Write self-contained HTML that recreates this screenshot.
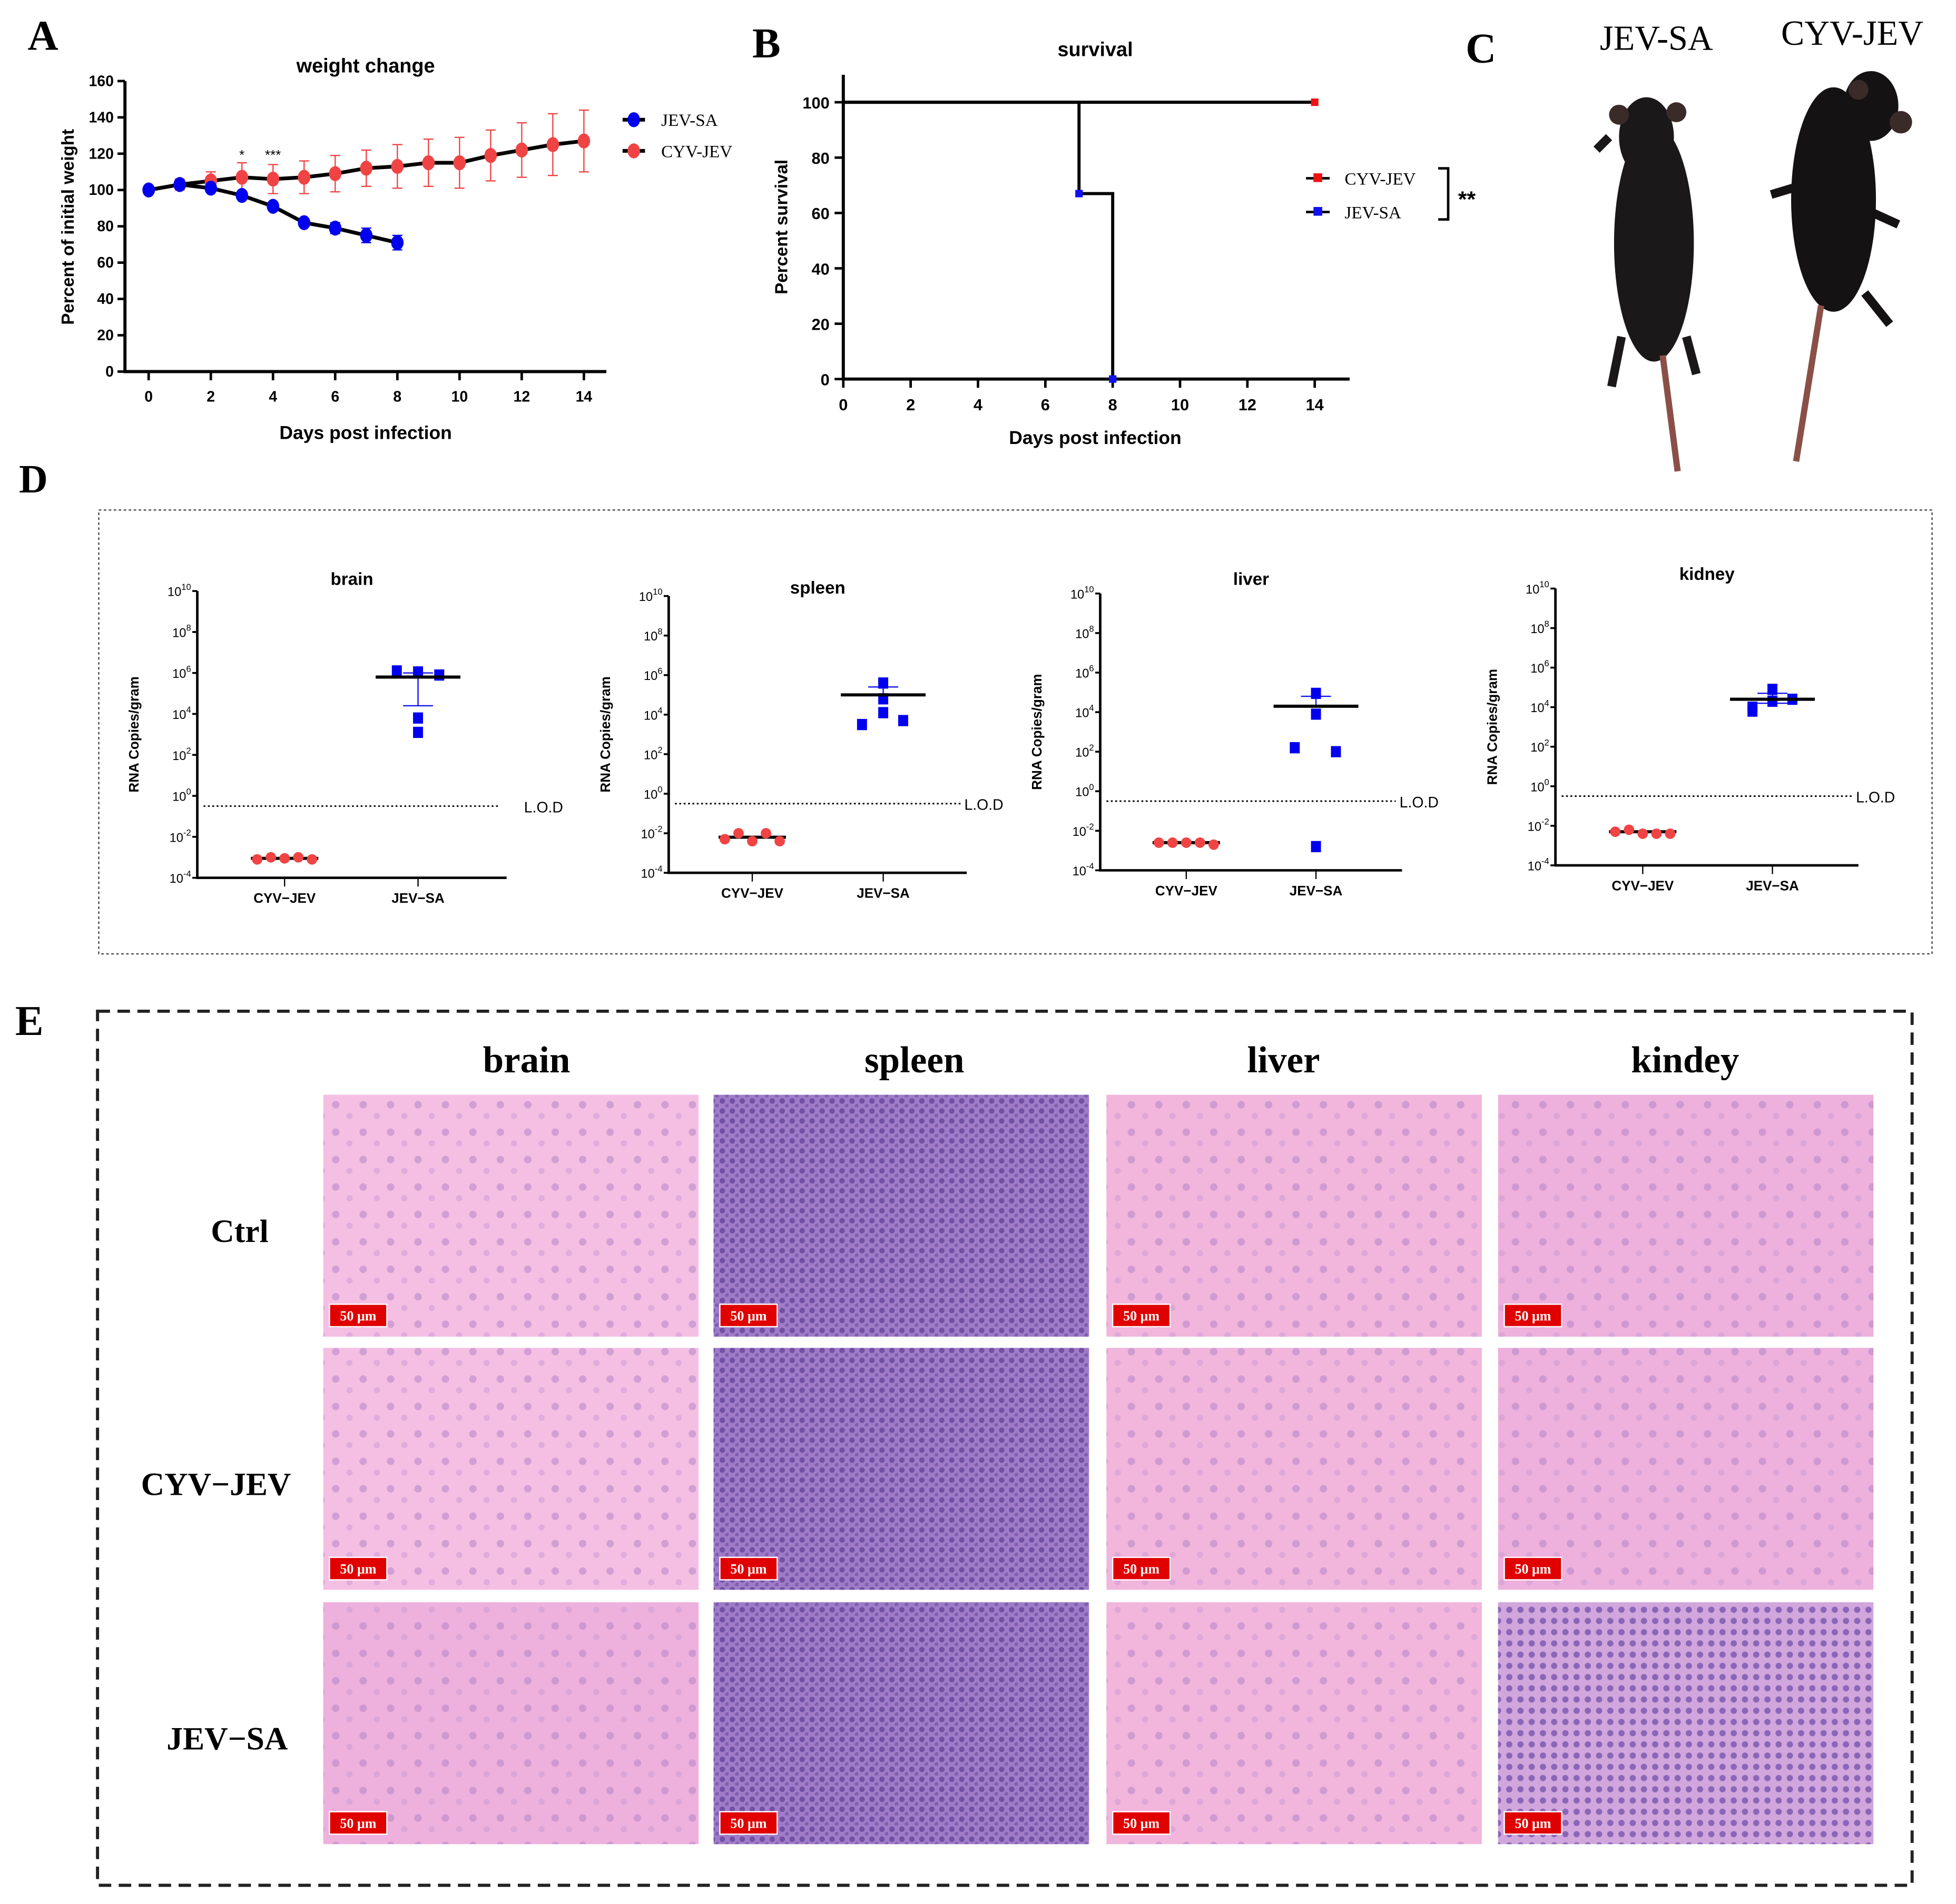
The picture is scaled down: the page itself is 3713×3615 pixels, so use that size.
<!DOCTYPE html>
<html><head><meta charset="utf-8"><style>
html,body{margin:0;padding:0;background:#fff}
svg{display:block}
text{font-family:"Liberation Sans",Arial,sans-serif}
.serif{font-family:"Liberation Serif","Times New Roman",serif}
</style></head><body>
<svg id="fig" width="3713" height="3615" viewBox="0 0 1568 1527" xmlns="http://www.w3.org/2000/svg">
<defs>
<pattern id="cellsP" width="22" height="22" patternUnits="userSpaceOnUse"><circle cx="5" cy="6" r="3" fill="#b98ac9" opacity="0.6"/><circle cx="16" cy="15" r="2.5" fill="#c99ad4" opacity="0.5"/></pattern>
<pattern id="cellsS" width="8" height="8" patternUnits="userSpaceOnUse"><circle cx="3" cy="3" r="2.2" fill="#5e3d95" opacity="0.7"/><circle cx="7" cy="7" r="1.8" fill="#6a4aa0" opacity="0.6"/></pattern>
<pattern id="cellsK" width="9" height="9" patternUnits="userSpaceOnUse"><circle cx="4" cy="4" r="2.5" fill="#6e4aa8" opacity="0.7"/></pattern>
</defs>
<rect width="1568" height="1527" fill="#fff"/>
<g id="panelA"></g>
<g id="panelB"></g>
<g id="panelC">
<text x="1175" y="50" font-size="34" font-weight="bold" class="serif">C</text>
<text x="1328" y="40" font-size="28" text-anchor="middle" class="serif">JEV-SA</text>
<text x="1485" y="36" font-size="28" text-anchor="middle" class="serif">CYV-JEV</text>
<g>
<ellipse cx="1326" cy="195" rx="32" ry="95" fill="#1a1818"/><ellipse cx="1320" cy="110" rx="22" ry="32" fill="#1a1818"/>
<circle cx="1298" cy="92" r="8" fill="#3a2a28"/><circle cx="1344" cy="90" r="8" fill="#3a2a28"/>
<path d="M1290 110 l-10 10 M1300 270 l-8 40 M1352 270 l8 30" stroke="#1a1818" stroke-width="7"/>
<path d="M1333 285 L1345 378" stroke="#8a5048" stroke-width="5"/></g>
<g>
<ellipse cx="1470" cy="160" rx="34" ry="90" fill="#141212"/><ellipse cx="1500" cy="85" rx="22" ry="28" fill="#141212"/>
<circle cx="1524" cy="98" r="9" fill="#3a2a28"/><circle cx="1490" cy="72" r="8" fill="#3a2a28"/>
<path d="M1440 150 l-20 6 M1500 170 l22 10 M1495 235 l20 25" stroke="#141212" stroke-width="7"/>
<path d="M1460 245 L1440 370" stroke="#8a5048" stroke-width="5"/></g>
</g>
<g id="panelD">
<text x="15" y="395" font-size="32" font-weight="bold" class="serif">D</text>
<rect x="79" y="409" width="1470" height="356" fill="none" stroke="#444" stroke-width="1" stroke-dasharray="2,2"/>
</g>
<g id="panelE">
<text x="12" y="830" font-size="34" font-weight="bold" class="serif">E</text>
<rect x="78" y="811" width="1455" height="701" fill="none" stroke="#222" stroke-width="2.5" stroke-dasharray="10,6"/>
</g>
</svg>
<script>
const NS="http://www.w3.org/2000/svg";
function mk(parent,tag,attrs,txt){const e=document.createElementNS(NS,tag);for(const k in attrs)e.setAttribute(k,attrs[k]);if(txt!==undefined)e.textContent=txt;parent.appendChild(e);return e;}

/* ===== Panel A data ===== */
const daysJEV=[0,1,2,3,4,5,6,7,8];
const weightJEV=[100,103,101,97,91,82,79,75,71];
const errJEV=[1,2,2,2,1,2,3,4,4];
const daysCYV=[0,1,2,3,4,5,6,7,8,9,10,11,12,13,14];
const weightCYV=[100,103,105,107,106,107,109,112,113,115,115,119,122,125,127];
const errCYV=[0,3,5,8,8,9,10,10,12,13,14,14,15,17,17];
const aXTicks=[0,2,4,6,8,10,12,14];
const aYTicks=[0,20,40,60,80,100,120,140,160];

const A=document.getElementById('panelA');
const ax=d=>119+d*(468-119)/14, ay=v=>298-v*(298-65)/160;
let t=mk(A,'text',{x:22,y:40,'font-size':34,'font-weight':'bold',class:'serif'},'A');


t=mk(A,'text',{x:293,y:58,'font-size':16,'font-weight':'bold','text-anchor':'middle'},'weight change');


let l=mk(A,'path',{d:'M100 65 V298 H486',stroke:'#000','stroke-width':2.5,fill:'none'});


aYTicks.forEach(v=>{mk(A,'line',{x1:94,x2:100,y1:ay(v),y2:ay(v),stroke:'#000','stroke-width':2});
 t=mk(A,'text',{x:91,y:ay(v)+4,'font-size':12,'font-weight':'bold','text-anchor':'end'},v);
 
 });
aXTicks.forEach(v=>{mk(A,'line',{x1:ax(v),x2:ax(v),y1:298,y2:305,stroke:'#000','stroke-width':2});
 t=mk(A,'text',{x:ax(v),y:322,'font-size':12,'font-weight':'bold','text-anchor':'middle'},v);
 
 });
t=mk(A,'text',{x:293,y:352,'font-size':15,'font-weight':'bold','text-anchor':'middle'},'Days post infection');


t=mk(A,'text',{x:0,y:0,'font-size':14,'font-weight':'bold','text-anchor':'middle',transform:'translate(59,182) rotate(-90)'},'Percent of initial weight');


function seriesA(days,vals,errs,col,name){
 days.forEach((d,i)=>{if(errs[i]>0){const e=mk(A,'path',{d:`M${ax(d)} ${ay(vals[i]-errs[i])} V${ay(vals[i]+errs[i])} M${ax(d)-4} ${ay(vals[i]-errs[i])} h8 M${ax(d)-4} ${ay(vals[i]+errs[i])} h8`,stroke:col,'stroke-width':1,fill:'none'});
  
  }});
 const p=mk(A,'polyline',{points:days.map((d,i)=>ax(d)+','+ay(vals[i])).join(' '),stroke:'#000','stroke-width':3,fill:'none'});
 
 
 days.forEach((d,i)=>{const c=mk(A,'ellipse',{cx:ax(d),cy:ay(vals[i]),rx:5,ry:6,fill:col});
  
  });
}
seriesA(daysCYV,weightCYV,errCYV,'#f04444','cyv-jev');
seriesA(daysJEV,weightJEV,errJEV,'#0000ee','jev-sa');
mk(A,'text',{x:ax(3),y:128,'font-size':11,'text-anchor':'middle'},'*');
mk(A,'text',{x:ax(4),y:128,'font-size':11,'text-anchor':'middle'},'***');
[['JEV-SA','#0000ee',96],['CYV-JEV','#f04444',121]].forEach(([n,c,y])=>{
 const g=mk(A,'g',{});
 
 
 mk(g,'line',{x1:499,x2:517,y1:y,y2:y,stroke:'#000','stroke-width':3});
 mk(g,'ellipse',{cx:508,cy:y,rx:5,ry:6,fill:c});
 mk(g,'text',{x:530,y:y+5,'font-size':14,class:'serif'},n);});

/* ===== Panel B data ===== */
const survDays=[0,7,8,14];
const survJEV=[100,67,0,null];
const survCYV=[100,100,100,100];
const bXTicks=[0,2,4,6,8,10,12,14];
const bYTicks=[0,20,40,60,80,100];
const B=document.getElementById('panelB');
const bx=d=>676+d*(1054-676)/14, by=v=>304-v*(304-82)/100;
t=mk(B,'text',{x:603,y:46,'font-size':34,'font-weight':'bold',class:'serif'},'B');


t=mk(B,'text',{x:878,y:45,'font-size':16,'font-weight':'bold','text-anchor':'middle'},'survival');


l=mk(B,'path',{d:'M676 60 V304 H1082',stroke:'#000','stroke-width':2.5,fill:'none'});


bYTicks.forEach(v=>{mk(B,'line',{x1:669,x2:676,y1:by(v),y2:by(v),stroke:'#000','stroke-width':2});
 t=mk(B,'text',{x:665,y:by(v)+5,'font-size':13,'font-weight':'bold','text-anchor':'end'},v);
 
 });
bXTicks.forEach(v=>{mk(B,'line',{x1:bx(v),x2:bx(v),y1:304,y2:311,stroke:'#000','stroke-width':2});
 t=mk(B,'text',{x:bx(v),y:329,'font-size':13,'font-weight':'bold','text-anchor':'middle'},v);
 
 });
t=mk(B,'text',{x:878,y:356,'font-size':15,'font-weight':'bold','text-anchor':'middle'},'Days post infection');


t=mk(B,'text',{x:0,y:0,'font-size':14,'font-weight':'bold','text-anchor':'middle',transform:'translate(631,182) rotate(-90)'},'Percent survival');


function stepPath(ds,vs){let d='',prev=null;ds.forEach((x,i)=>{if(vs[i]===null)return;if(prev===null)d+=`M${bx(x)} ${by(vs[i])}`;else d+=` H${bx(x)} V${by(vs[i])}`;prev=vs[i];});return d;}
l=mk(B,'path',{d:stepPath(survDays,survCYV),stroke:'#000','stroke-width':2.5,fill:'none'});


l=mk(B,'path',{d:stepPath(survDays,survJEV),stroke:'#000','stroke-width':2.5,fill:'none'});


let r=mk(B,'rect',{x:bx(14)-3,y:by(100)-3,width:6,height:6,fill:'#ee1111'});


[[7,67],[8,0]].forEach(([d,v])=>{r=mk(B,'rect',{x:bx(d)-3,y:by(v)-3,width:6,height:6,fill:'#1111ee'});
 
 });
[['CYV-JEV','#ee1111',143],['JEV-SA','#1111ee',170]].forEach(([n,c,y])=>{
 const g=mk(B,'g',{});
 
 
 mk(g,'line',{x1:1047,x2:1066,y1:y,y2:y,stroke:'#000','stroke-width':2});
 mk(g,'rect',{x:1053,y:y-4,width:7,height:7,fill:c});
 mk(g,'text',{x:1078,y:y+5,'font-size':14,class:'serif'},n);});
mk(B,'path',{d:'M1153 135 H1161 V176 H1153',stroke:'#000','stroke-width':2,fill:'none'});
mk(B,'text',{x:1169,y:166,'font-size':18,'font-weight':'bold'},'**');

/* ===== Panel D data (log10 copies/gram) ===== */
const organs=['brain','spleen','liver','kidney'];
const cyvLog=[[-3.1,-3.0,-3.05,-3.0,-3.1],[-2.3,-2.0,-2.4,-2.0,-2.4],[-2.6,-2.6,-2.6,-2.6,-2.7],[-2.3,-2.2,-2.4,-2.4,-2.4]];
const jevLog=[[6.1,5.9,6.05,3.8,3.1],[3.5,5.6,4.8,4.1,3.7],[2.2,4.95,3.9,2.0,-2.8],[3.8,4.3,4.9,4.4,4.0]];
const cyvMean=[-3.05,-2.2,-2.6,-2.3];
const jevMean=[5.8,5.0,4.3,4.4];
const jevErrUp=[6.0,5.4,4.8,4.7];
const jevErrLo=[4.4,5.0,4.3,4.2];
const lodLog=-0.5;
const yExp=[-4,-2,0,2,4,6,8,10];
const D=document.getElementById('panelD');
const boxes=[{ax:158,top:474,bot:704,end:406,c1:228,c2:335,ty:469},{ax:536,top:478,bot:700,end:775,c1:603,c2:708,ty:476},{ax:882,top:476,bot:698,end:1124,c1:951,c2:1055,ty:469},{ax:1247,top:472,bot:694,end:1490,c1:1317,c2:1421,ty:465}];
const offs=[-2,-1,0,1,2];
/* horizontal jitter of JEV-SA points (visual layout, not data) */
const jit=[[-17,17,0,0,0],[-17,0,0,0,16],[-17,0,0,16,0],[-16,0,0,16,-16]];
organs.forEach((o,k)=>{
 const b=boxes[k];const g=mk(D,'g',{});
 
 
 const y=v=>b.bot-(v+4)*(b.bot-b.top)/14;
 t=mk(g,'text',{x:(b.ax+b.end)/2,y:b.ty,'font-size':14,'font-weight':'bold','text-anchor':'middle'},o);
 
 
 mk(g,'path',{d:`M${b.ax} ${b.top} V${b.bot} H${b.end}`,stroke:'#000','stroke-width':2,fill:'none'});
 yExp.forEach(e=>{mk(g,'line',{x1:b.ax-4,x2:b.ax,y1:y(e),y2:y(e),stroke:'#000','stroke-width':1.5});
  const tt=mk(g,'text',{x:b.ax-5,y:y(e)+4,'font-size':10,'text-anchor':'end'});
  
  
  tt.appendChild(document.createTextNode('10'));
  mk(tt,'tspan',{'font-size':7,dy:-5},e);});
 [[b.c1,'CYV−JEV'],[b.c2,'JEV−SA']].forEach(([cx,n])=>{mk(g,'line',{x1:cx,x2:cx,y1:b.bot,y2:b.bot+7,stroke:'#000'});
  t=mk(g,'text',{x:cx,y:b.bot+20,'font-size':11,'font-weight':'bold','text-anchor':'middle'},n);
  
  });
 t=mk(g,'text',{x:0,y:0,'font-size':11,'font-weight':'bold','text-anchor':'middle',transform:`translate(${b.ax-47},${(b.top+b.bot)/2}) rotate(-90)`},'RNA Copies/gram');
 
 
 l=mk(g,'line',{x1:b.ax+5,x2:b.end-5,y1:y(lodLog),y2:y(lodLog),stroke:'#000','stroke-width':1.2,'stroke-dasharray':'1.5,2'});
 
 
 mk(g,'text',{x:b.end+(k==0?14:-2),y:y(lodLog)+5,'font-size':12},'L.O.D');
 mk(g,'line',{x1:b.c1-27,x2:b.c1+27,y1:y(cyvMean[k]),y2:y(cyvMean[k]),stroke:'#000','stroke-width':2.5});
 cyvLog[k].forEach((v,i)=>{const c=mk(g,'circle',{cx:b.c1+offs[i]*11,cy:y(v),r:4.2,fill:'#f04444'});
  
  });
 mk(g,'path',{d:`M${b.c2} ${y(jevErrUp[k])} V${y(jevErrLo[k])} M${b.c2-12} ${y(jevErrUp[k])} h24 M${b.c2-12} ${y(jevErrLo[k])} h24`,stroke:'#1111ee','stroke-width':1,fill:'none'});
 jevLog[k].forEach((v,i)=>{const c=mk(g,'rect',{x:b.c2+jit[k][i]-4,y:y(v)-4.5,width:8,height:9,fill:'#0000ee'});
  
  });
 mk(g,'line',{x1:b.c2-34,x2:b.c2+34,y1:y(jevMean[k]),y2:y(jevMean[k]),stroke:'#000','stroke-width':2.5});
});

/* ===== Panel E ===== */
const E=document.getElementById('panelE');
const cols=[['brain',259,422],['spleen',572,733],['liver',887,1029],['kindey',1201,1351]];
const rows=[['Ctrl',878,192],['CYV−JEV',1081,173],['JEV−SA',1285,182]];
cols.forEach(c=>{t=mk(E,'text',{x:c[2],y:860,'font-size':30,'font-weight':'bold','text-anchor':'middle',class:'serif'},c[0]);
 
 });
const base={brain:'#f5bfe3',spleen:'#a07cc8',liver:'#f2b5dc',kindey:'#eeb0dc'};
const pat={brain:'cellsP',spleen:'cellsS',liver:'cellsP',kindey:'cellsP'};
rows.forEach((rw,ri)=>{
 t=mk(E,'text',{x:rw[2],y:rw[1]+118,'font-size':26,'font-weight':'bold','text-anchor':'middle',class:'serif'},rw[0]);
 
 
 cols.forEach(c=>{
  const g=mk(E,'g',{});
  
  
  let col=base[c[0]];
  if(ri==2&&c[0]=='kindey')col='#d0a6dc';
  if(ri==2&&c[0]=='brain')col='#eeb0dc';
  mk(g,'rect',{x:c[1],y:rw[1],width:301,height:194,fill:col});
  mk(g,'rect',{x:c[1],y:rw[1],width:301,height:194,fill:'url(#'+(ri==2&&c[0]=='kindey'?'cellsK':pat[c[0]])+')'});
  mk(g,'rect',{x:c[1]+5,y:rw[1]+168,width:46,height:18,fill:'#e00000',stroke:'#fff','stroke-width':1});
  mk(g,'text',{x:c[1]+28,y:rw[1]+181,'font-size':11,'font-weight':'bold',fill:'#fff','text-anchor':'middle',class:'serif'},'50 μm');
 });
});
</script>
</body></html>
